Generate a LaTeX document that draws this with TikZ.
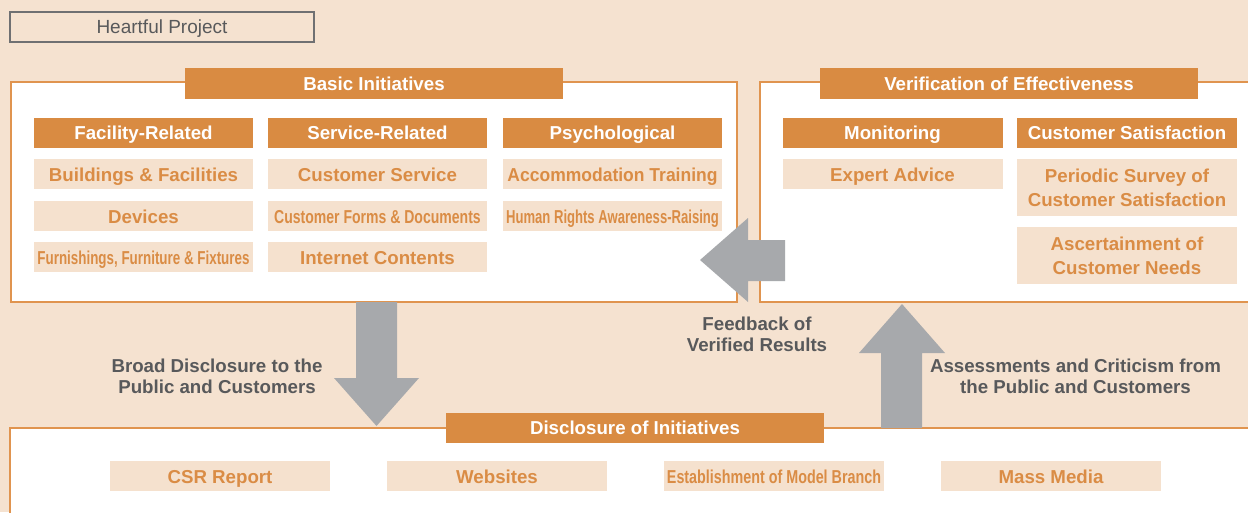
\documentclass[tikz,border=0pt]{standalone}
\usepackage{fontspec}
\usepackage{graphicx}
\setmainfont{Liberation Sans}
\definecolor{bgpeach}{HTML}{F5E2D0}
\definecolor{itemfill}{HTML}{F5E1CE}
\definecolor{hdrorange}{HTML}{D98B42}
\definecolor{lineorange}{HTML}{E0944F}
\definecolor{txtorange}{HTML}{DA8C45}
\definecolor{txtgray}{HTML}{58595B}
\definecolor{arrgray}{HTML}{A7A9AC}
\definecolor{boxgray}{HTML}{6F7072}
\newcommand{\squeezed}[2]{\scalebox{#1}[1]{#2}}
\tikzset{
  panel/.style={draw=lineorange, line width=1.3pt, fill=white, inner sep=0pt, outer sep=0pt},
  capline/.style={inner sep=0pt, outer sep=0pt, text height=13.4pt, text depth=0pt},
  hdr/.style={capline, fill=hdrorange, text=white, font=\fontsize{18.7}{22}\selectfont\bfseries},
  bighdr/.style={hdr, minimum width=378pt, minimum height=31pt},
  subhdr/.style={hdr, minimum width=219pt, minimum height=30pt},
  item/.style={inner sep=0pt, outer sep=0pt, text height=15.4pt, text depth=0pt, fill=itemfill, text=txtorange, font=\fontsize{18.7}{22}\selectfont\bfseries, minimum width=219pt, minimum height=30pt},
  tallitem/.style={inner sep=0pt, outer sep=0pt, fill=itemfill, text=txtorange, font=\fontsize{18.7}{23.7}\selectfont\bfseries, minimum width=220pt, minimum height=57pt, align=center},
  glabel/.style={inner sep=0pt, text=txtgray, font=\fontsize{18.7}{21}\selectfont\bfseries, align=center},
  blockarrow/.style={fill=arrgray, draw=none}
}
\begin{document}
\begin{tikzpicture}[x=1pt,y=-1pt]
\fill[bgpeach] (0,0) rectangle (1248,512);
\useasboundingbox (0,0) rectangle (1248,512);

% title box
\node[draw=boxgray, line width=1.2pt, fill=bgpeach, minimum width=304pt, minimum height=30pt, inner sep=0pt,
      text=txtgray, font=\fontsize{19}{22}\selectfont, text height=13.6pt, text depth=0pt] (title) at (162,27) {Heartful Project};

% panels
\node[panel, minimum width=726pt, minimum height=220pt] (basic) at (374,192) {};
\node[panel, minimum width=502pt, minimum height=220pt] (verif) at (1011,192) {};
\node[panel, minimum width=1252pt, minimum height=110pt] (discl) at (636,483) {};

% block arrows
\fill[blockarrow] (356,302) -- (397,302) -- (397,378) -- (419,378) -- (376.5,426) -- (334,378) -- (356,378) -- cycle;
\fill[blockarrow] (785,240) -- (748,240) -- (748,218) -- (700,260) -- (748,302) -- (748,281) -- (785,281) -- cycle;
\fill[blockarrow] (881,428) -- (881,353) -- (859,353) -- (902,304) -- (945,353) -- (922,353) -- (922,428) -- cycle;

% panel headers
\node[bighdr] (basichdr) at (374,83.5) {Basic Initiatives};
\node[bighdr] (verifhdr) at (1009,83.5) {Verification of Effectiveness};
\node[bighdr, minimum height=30pt] (disclhdr) at (635,428) {Disclosure of Initiatives};

% basic initiatives columns
\node[subhdr] (fac) at (143.5,133) {Facility-Related};
\node[subhdr] (svc) at (377.5,133) {Service-Related};
\node[subhdr] (psy) at (612.5,133) {Psychological};

\node[item] (fac1) at (143.5,174) {Buildings \& Facilities};
\node[item] (fac2) at (143.5,216) {Devices};
\node[item] (fac3) at (143.5,257) {\squeezed{0.716}{Furnishings, Furniture \& Fixtures}};

\node[item] (svc1) at (377.5,174) {Customer Service};
\node[item] (svc2) at (377.5,216) {\squeezed{0.75}{Customer Forms \& Documents}};
\node[item] (svc3) at (377.5,257) {Internet Contents};

\node[item] (psy1) at (612.5,174) {\squeezed{0.936}{Accommodation Training}};
\node[item] (psy2) at (612.5,216) {\squeezed{0.70}{Human Rights Awareness-Raising}};

% verification columns
\node[subhdr, minimum width=220pt] (mon) at (892.5,133) {Monitoring};
\node[subhdr, minimum width=220pt] (sat) at (1127,133) {Customer Satisfaction};
\node[item, minimum width=220pt] (mon1) at (892.5,174) {Expert Advice};
\node[tallitem] (sat1) at (1127,187.5) {Periodic Survey of\\Customer Satisfaction};
\node[tallitem] (sat2) at (1127,255.5) {Ascertainment of\\Customer Needs};

% disclosure items
\node[item, minimum width=220pt] (d1) at (220,476) {CSR Report};
\node[item, minimum width=220pt] (d2) at (497,476) {Websites};
\node[item, minimum width=220pt] (d3) at (774,476) {\squeezed{0.766}{Establishment of Model Branch}};
\node[item, minimum width=220pt] (d4) at (1051,476) {Mass Media};

% arrow labels
\node[glabel] (broad) at (217,376) {Broad Disclosure to the\\Public and Customers};
\node[glabel] (feedback) at (757,334.5) {Feedback of\\Verified Results};
\node[glabel] (assess) at (1075.5,376) {Assessments and Criticism from\\the Public and Customers};
\end{tikzpicture}
\end{document}
